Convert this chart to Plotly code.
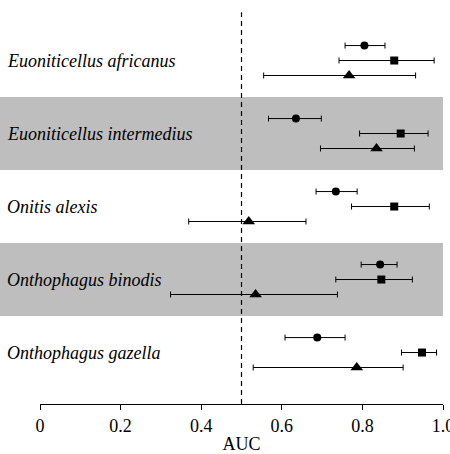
import plotly.graph_objects as go

species = ["Euoniticellus africanus", "Euoniticellus intermedius", "Onitis alexis",
           "Onthophagus binodis", "Onthophagus gazella"]
# AUC estimates and interval bounds per species (top to bottom)
circle_auc = [0.805, 0.635, 0.734, 0.844, 0.688]
circle_lo = [0.757, 0.567, 0.685, 0.797, 0.608]
circle_hi = [0.856, 0.698, 0.787, 0.886, 0.757]

square_auc = [0.879, 0.895, 0.879, 0.847, 0.948]
square_lo = [0.742, 0.793, 0.773, 0.734, 0.897]
square_hi = [0.978, 0.963, 0.966, 0.924, 0.984]

triangle_auc = [0.767, 0.835, 0.518, 0.535, 0.786]
triangle_lo = [0.555, 0.696, 0.369, 0.324, 0.529]
triangle_hi = [0.932, 0.929, 0.660, 0.738, 0.901]

tick_vals = [0, 0.2, 0.4, 0.6, 0.8, 1.0]
tick_text = ["0", "0.2", "0.4", "0.6", "0.8", "1.0"]

n = len(species)
ypos = [n - i for i in range(n)]  # 5..1
offset = 0.205

font_family = "Liberation Serif"

fig = go.Figure()

series = [
    (circle_auc, circle_lo, circle_hi, "circle", 8, offset),
    (square_auc, square_lo, square_hi, "square", 8, 0.0),
    (triangle_auc, triangle_lo, triangle_hi, "triangle-up", 11, -offset),
]
for auc, lo, hi, sym, size, off in series:
    fig.add_trace(go.Scatter(
        x=auc,
        y=[y + off for y in ypos],
        mode="markers",
        marker=dict(symbol=sym, size=size, color="black"),
        error_x=dict(type="data", symmetric=False,
                     array=[h - a for a, h in zip(auc, hi)],
                     arrayminus=[a - l for a, l in zip(auc, lo)],
                     color="black", thickness=1, width=3),
        showlegend=False,
    ))

shapes = []
left_px = 40
plot_w = 403
for i, y in enumerate(ypos):
    if i % 2 == 1:
        shapes.append(dict(type="rect", xref="paper", yref="y",
                           x0=-left_px / plot_w, x1=1.0, y0=y - 0.5, y1=y + 0.5,
                           fillcolor="#bebebe", line=dict(width=0), layer="below"))
shapes.append(dict(type="line", xref="x", yref="y", x0=0.5, x1=0.5,
                   y0=0.295, y1=5.66, line=dict(color="black", width=1.2, dash="5px,4px")))

annotations = []
for name, y in zip(species, ypos):
    annotations.append(dict(xref="paper", yref="y", x=-35 / plot_w, y=y,
                            text="<i>" + name + "</i>", showarrow=False,
                            xanchor="left", yanchor="middle",
                            font=dict(family=font_family, size=18, color="black")))

fig.update_layout(
    width=450, height=454,
    margin=dict(l=40, r=7, t=0, b=50, autoexpand=False),
    paper_bgcolor="white", plot_bgcolor="white",
    shapes=shapes, annotations=annotations,
    font=dict(family=font_family, size=18, color="black"),
    xaxis=dict(range=[0, 1.0], tickvals=tick_vals, ticktext=tick_text,
               showline=True, linecolor="black", linewidth=1,
               ticks="outside", ticklen=5, tickcolor="black", tickwidth=1,
               ticklabeloverflow="allow", automargin=False,
               tickfont=dict(family=font_family, size=18),
               showgrid=False, zeroline=False,
               title=dict(text="AUC", standoff=18,
                          font=dict(family=font_family, size=18))),
    yaxis=dict(range=[0.295, 5.829], visible=False, showgrid=False, zeroline=False),
)

fig.write_html("out.html")
